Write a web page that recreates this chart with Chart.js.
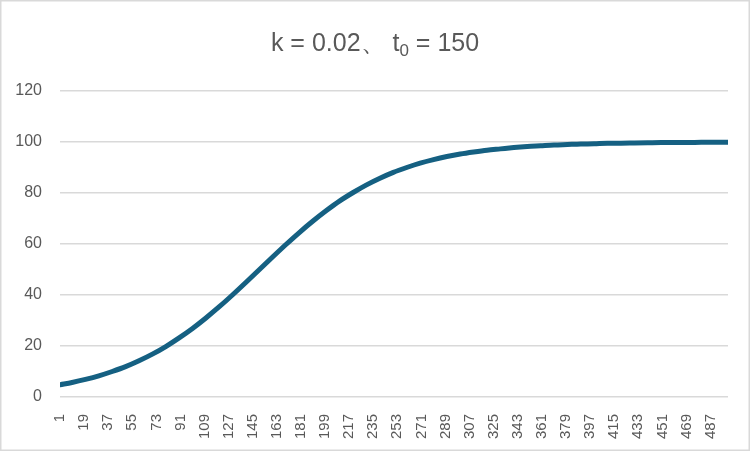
<!DOCTYPE html>
<html>
<head>
<meta charset="utf-8">
<script src="https://cdn.jsdelivr.net/npm/chart.js@4.4.1/dist/chart.umd.min.js"></script>
<style>
  html, body { margin: 0; padding: 0; background: #fff; }
  #wrap { width: 751px; height: 452px; position: relative; }
</style>
</head>
<body>
<div id="wrap"><canvas id="c" width="751" height="452"></canvas></div>
<script>
// ---- data ----
const tValues = [1,10,20,30,40,50,60,70,80,90,100,110,120,130,140,150,160,170,180,190,200,210,220,230,240,250,260,270,280,290,300,310,320,330,340,350,360,370,380,390,400,410,420,430,440,450,460,470,480,490,500];
const yValues = [4.8,5.7,6.9,8.3,10.0,11.9,14.2,16.8,19.8,23.2,26.9,31.0,35.4,40.1,45.0,50.0,55.0,59.9,64.6,69.0,73.1,76.9,80.2,83.2,85.8,88.1,90.0,91.7,93.1,94.3,95.3,96.1,96.8,97.3,97.8,98.2,98.5,98.8,99.0,99.2,99.3,99.5,99.5,99.6,99.7,99.8,99.8,99.8,99.9,99.9,99.9];
const xTickLabels = [1,19,37,55,73,91,109,127,145,163,181,199,217,235,253,271,289,307,325,343,361,379,397,415,433,451,469,487];
const yTickLabels = [0,20,40,60,80,100,120];
const titleMain = "k = 0.02、 t";
const titleSub = "0";
const titleEnd = " = 150";

const points = tValues.map((t, i) => ({ x: t, y: yValues[i] }));

const frame = {
  id: 'frame',
  beforeDraw(chart) {
    const ctx = chart.ctx;
    ctx.save();
    ctx.fillStyle = '#ffffff';
    ctx.fillRect(0, 0, chart.width, chart.height);
    ctx.strokeStyle = '#d9d9d9';
    ctx.lineWidth = 1.5;
    ctx.strokeRect(0.75, 0.75, 748.5, 449.5);
    ctx.restore();
  },
  afterDraw(chart) {
    const ctx = chart.ctx;
    ctx.save();
    ctx.fillStyle = '#595959';
    ctx.textBaseline = 'alphabetic';
    const big = '25px "Liberation Sans", Arial, sans-serif';
    const small = '17px "Liberation Sans", Arial, sans-serif';
    ctx.font = big; const w1 = ctx.measureText(titleMain).width;
    ctx.font = small; const w2 = ctx.measureText(titleSub).width;
    ctx.font = big; const w3 = ctx.measureText(titleEnd).width;
    const total = w1 + w2 + w3;
    let x = 375 - total / 2;
    const base = 51;
    ctx.font = big; ctx.fillText(titleMain, x, base); x += w1;
    ctx.font = small; ctx.fillText(titleSub, x, base + 5); x += w2;
    ctx.font = big; ctx.fillText(titleEnd, x, base);
    ctx.restore();
  }
};

new Chart(document.getElementById('c'), {
  type: 'line',
  data: {
    datasets: [{
      data: points,
      borderColor: '#156082',
      borderWidth: 5,
      borderCapStyle: 'round',
      borderJoinStyle: 'round',
      pointRadius: 0,
      tension: 0.4,
      cubicInterpolationMode: 'monotone',
      fill: false
    }]
  },
  options: {
    responsive: false,
    animation: false,
    devicePixelRatio: 1,
    layout: { padding: { left: 0, right: 23, top: 91, bottom: 0 } },
    plugins: { legend: { display: false }, title: { display: false }, tooltip: { enabled: false } },
    scales: {
      x: {
        type: 'linear',
        min: 1,
        max: 500,
        afterBuildTicks(scale) { scale.ticks = xTickLabels.map(v => ({ value: v })); },
        afterFit(scale) { scale.height = 55; },
        grid: { display: false },
        border: { display: false },
        ticks: {
          minRotation: 90,
          maxRotation: 90,
          autoSkip: false,
          color: '#595959',
          padding: 9,
          font: { family: '"Liberation Sans", Arial, sans-serif', size: 15 }
        }
      },
      y: {
        min: 0,
        max: 120,
        afterBuildTicks(scale) { scale.ticks = yTickLabels.map(v => ({ value: v })); },
        afterFit(scale) { scale.width = 60; },
        grid: { color: '#d9d9d9', lineWidth: 1.5, drawTicks: false },
        border: { display: false },
        ticks: {
          color: '#595959',
          padding: 18,
          font: { family: '"Liberation Sans", Arial, sans-serif', size: 16 }
        }
      }
    }
  },
  plugins: [frame]
});
</script>
</body>
</html>
